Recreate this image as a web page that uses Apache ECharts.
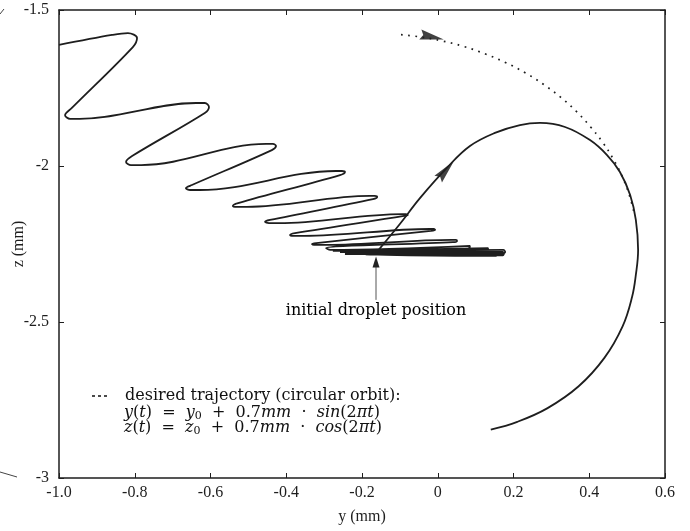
<!DOCTYPE html>
<html>
<head>
<meta charset="utf-8">
<script src="https://cdn.jsdelivr.net/npm/echarts@6/dist/echarts.min.js"></script>
<style>
  html, body { margin: 0; padding: 0; background: #fff; }
  #chart { width: 690px; height: 531px; }
</style>
</head>
<body>
<div id="chart"></div>
<script>
// [y (mm), z (mm)] pairs

// droplet settling zig-zag, entering from the left edge
const settlingPath = [
  [-1.000, -1.612], [-0.860, -1.580], [-0.818, -1.574], [-0.794, -1.590], [-0.805, -1.619],
  [-0.966, -1.814], [-0.984, -1.837], [-0.971, -1.849], [-0.945, -1.849],
  [-0.638, -1.798], [-0.615, -1.798], [-0.604, -1.811], [-0.615, -1.830],
  [-0.807, -1.968], [-0.823, -1.987], [-0.810, -1.997], [-0.783, -1.997],
  [-0.453, -1.929], [-0.435, -1.929], [-0.427, -1.936], [-0.438, -1.949],
  [-0.649, -2.061], [-0.665, -2.071], [-0.654, -2.077], [-0.628, -2.077],
  [-0.269, -2.016], [-0.253, -2.016], [-0.245, -2.019], [-0.258, -2.029],
  [-0.527, -2.119], [-0.541, -2.128], [-0.530, -2.131], [-0.504, -2.131],
  [-0.179, -2.096], [-0.166, -2.096], [-0.160, -2.099], [-0.171, -2.106],
  [-0.443, -2.173], [-0.456, -2.179], [-0.446, -2.183], [-0.419, -2.183],
  [-0.094, -2.154], [-0.084, -2.154], [-0.079, -2.157], [-0.089, -2.160],
  [-0.377, -2.215], [-0.390, -2.221], [-0.380, -2.224], [-0.353, -2.224],
  [-0.020, -2.202], [-0.010, -2.202], [-0.007, -2.205], [-0.018, -2.208],
  [-0.321, -2.247], [-0.332, -2.250], [-0.321, -2.253], [-0.295, -2.253],
  [0.038, -2.237], [0.048, -2.237], [0.051, -2.240], [0.040, -2.244],
  [-0.295, -2.263], [-0.284, -2.269],
  [0.085, -2.256], [0.080, -2.266],
  [-0.277, -2.272],
  [0.133, -2.263], [0.128, -2.272],
  [-0.258, -2.276],
  [0.173, -2.269], [0.178, -2.276], [0.170, -2.282],
  [-0.245, -2.282],
  [0.165, -2.272], [0.165, -2.282],
  [-0.226, -2.279],
  [0.160, -2.279], [0.154, -2.288],
  [-0.210, -2.282],
  [0.152, -2.272], [0.146, -2.282],
  [-0.190, -2.284],
  [0.172, -2.274], [0.170, -2.281],
  [-0.180, -2.281],
  [0.160, -2.285],
  [-0.200, -2.278],
  [0.175, -2.279], [0.172, -2.286],
  [-0.170, -2.284],
  [0.150, -2.276],
  [-0.163, -2.279]
];

// actual orbit, starting at the initial droplet position
const orbitPath = [
  [-0.163, -2.279], [-0.100, -2.186], [-0.047, -2.103], [0.024, -2.006],
  [0.085, -1.936], [0.151, -1.894], [0.217, -1.869], [0.270, -1.862],
  [0.336, -1.875], [0.402, -1.917], [0.447, -1.965], [0.481, -2.019],
  [0.508, -2.093], [0.523, -2.173], [0.529, -2.269], [0.523, -2.349],
  [0.513, -2.420], [0.488, -2.514], [0.440, -2.615], [0.372, -2.706],
  [0.290, -2.776], [0.210, -2.820], [0.140, -2.845]
];

// desired circular orbit (dotted), until it runs under the solid orbit
const desiredOrbit = [
  [-0.097, -1.579], [-0.048, -1.586], [0.011, -1.599], [0.069, -1.617],
  [0.126, -1.641], [0.180, -1.669], [0.232, -1.702], [0.280, -1.739],
  [0.325, -1.780], [0.366, -1.825], [0.403, -1.874], [0.436, -1.925],
  [0.464, -1.979], [0.488, -2.036], [0.506, -2.094], [0.519, -2.153]
];

// direction arrows: position and heading (degrees)
const arrowMarks = [
  { value: [-0.015, -1.5865], symbolRotate: -12 },
  { value: [0.022, -2.013], symbolRotate: 49 }
];

// pointer to the initial droplet position
const pointerLine = [[-0.163, -2.429], [-0.163, -2.308]];

const xTickLabels = ['-1.0', '-0.8', '-0.6', '-0.4', '-0.2', '0', '0.2', '0.4', '0.6'];

const FONT = 'Liberation Serif';
const TEXTFONT = 'DejaVu Serif';
const INK = '#1e1e1e';

const chart = echarts.init(document.getElementById('chart'), null, { renderer: 'canvas' });

const baseX = {
  type: 'value', min: -1, max: 0.6, interval: 0.2,
  axisLine: { onZero: false, lineStyle: { color: INK, width: 1.5 } },
  axisTick: { inside: true, length: 5, lineStyle: { color: INK, width: 1 } },
  splitLine: { show: false }
};
const baseY = {
  type: 'value', min: -3, max: -1.5, interval: 0.5,
  axisLine: { onZero: false, lineStyle: { color: INK, width: 1.5 } },
  axisTick: { inside: true, length: 5, lineStyle: { color: INK, width: 1 } },
  splitLine: { show: false }
};

const mathRich = {
  i: { fontFamily: TEXTFONT, fontSize: 16, fontStyle: 'italic', fill: '#111' },
  r: { fontFamily: TEXTFONT, fontSize: 16, fill: '#111' },
  s: { fontFamily: TEXTFONT, fontSize: 11, fill: '#111', padding: [6, 0, 0, 0] }
};

const option = {
  animation: false,
  backgroundColor: '#fff',
  grid: { left: 59, right: 25, top: 10, bottom: 53, containLabel: false, outerBoundsMode: 'none' },
  xAxis: [
    Object.assign({}, baseX, {
      position: 'bottom',
      name: 'y (mm)', nameLocation: 'middle', nameGap: 31, nameMoveOverlap: false,
      nameTextStyle: { fontFamily: FONT, fontSize: 16, color: INK },
      axisLabel: {
        fontFamily: FONT, fontSize: 16, color: INK, margin: 7,
        formatter: v => xTickLabels[Math.round((v + 1) / 0.2)]
      }
    }),
    Object.assign({}, baseX, { position: 'top', axisLabel: { show: false } })
  ],
  yAxis: [
    Object.assign({}, baseY, {
      position: 'left',
      name: 'z (mm)', nameLocation: 'middle', nameGap: 32, nameMoveOverlap: false,
      nameTextStyle: { fontFamily: FONT, fontSize: 16, color: INK },
      axisLabel: { fontFamily: FONT, fontSize: 16, color: INK, margin: 10 }
    }),
    Object.assign({}, baseY, { position: 'right', axisLabel: { show: false } })
  ],
  series: [
    {
      type: 'line', data: settlingPath, smooth: 0.35, symbol: 'none',
      lineStyle: { color: INK, width: 1.8 }
    },
    {
      type: 'line', data: orbitPath, smooth: 0.4, symbol: 'none',
      lineStyle: { color: INK, width: 1.8 }
    },
    {
      type: 'line', data: desiredOrbit, smooth: 0.4, symbol: 'none',
      lineStyle: { color: INK, width: 1.7, type: [1.7, 5.5], cap: 'butt' }
    },
    {
      type: 'scatter', data: arrowMarks,
      symbol: 'path://M0,0L24,5L0,10L3,5Z', symbolSize: [24, 10],
      itemStyle: { color: '#111' }
    },
    {
      type: 'line', symbol: 'none',
      data: [pointerLine[0], { value: pointerLine[1], symbol: 'triangle', symbolSize: [7, 11] }],
      showSymbol: true,
      lineStyle: { color: '#555', width: 1 },
      itemStyle: { color: '#222' }
    },
    {
      type: 'scatter', data: [pointerLine[0]], symbol: 'circle', symbolSize: 0,
      itemStyle: { color: '#000' },
      label: {
        show: true, position: 'bottom', distance: 3,
        formatter: 'initial droplet position',
        fontFamily: TEXTFONT, fontSize: 16, color: '#000', opacity: 1
      }
    }
  ],
  graphic: [
    {
      type: 'line', shape: { x1: 92, y1: 396, x2: 108, y2: 396 },
      style: { stroke: INK, lineWidth: 1.6, lineDash: [3, 3] }
    },
    {
      type: 'text', x: 125, y: 396,
      style: {
        text: 'desired trajectory (circular orbit):',
        font: '16px "DejaVu Serif"', fill: '#111', verticalAlign: 'middle'
      }
    },
    {
      type: 'text', x: 124, y: 413,
      style: {
        text: '{i|y}{r|(}{i|t}{r|)  =  }{i|y}{s|0}{r|  +  0.7}{i|mm}{r|  ·  }{i|sin}{r|(2}{i|πt}{r|)}',
        verticalAlign: 'middle', fill: '#111', rich: mathRich
      }
    },
    {
      type: 'text', x: 124, y: 428,
      style: {
        text: '{i|z}{r|(}{i|t}{r|)  =  }{i|z}{s|0}{r|  +  0.7}{i|mm}{r|  ·  }{i|cos}{r|(2}{i|πt}{r|)}',
        verticalAlign: 'middle', fill: '#111', rich: mathRich
      }
    },
    // small stray strokes at the left page edge
    { type: 'line', shape: { x1: 0, y1: 14, x2: 4, y2: 9 }, style: { stroke: '#444', lineWidth: 1 } },
    { type: 'line', shape: { x1: 0, y1: 472, x2: 17, y2: 477 }, style: { stroke: '#444', lineWidth: 1 } }
  ]
};

chart.setOption(option);
window.addEventListener('resize', chart.resize);
</script>
</body>
</html>
